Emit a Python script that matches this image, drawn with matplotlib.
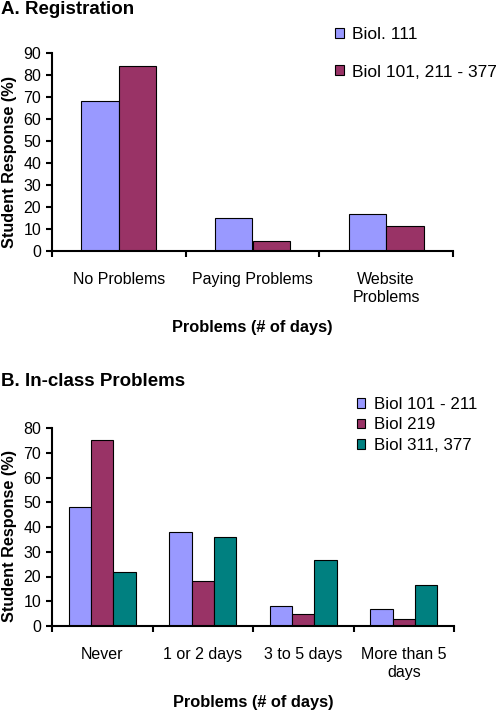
import numpy as np
import matplotlib.pyplot as plt

plt.rcParams['font.family'] = ['Liberation Sans', 'DejaVu Sans']

# =========================
# DATA
# =========================
reg_categories = ["No Problems", "Paying Problems", "Website\nProblems"]
reg_series = ["Biol. 111", "Biol 101, 211 - 377"]
reg_biol111 = [68, 15, 17]
reg_biol101_377 = [84, 4.5, 11.5]

cls_categories = ["Never", "1 or 2 days", "3 to 5 days", "More than 5\ndays"]
cls_series = ["Biol 101 - 211", "Biol 219", "Biol 311, 377"]
cls_biol101_211 = [48, 38, 8, 7]
cls_biol219 = [75, 18, 5, 3]
cls_biol311_377 = [22, 36, 26.5, 16.5]

colors = ["#9999FF", "#993366", "#008080"]

fig = plt.figure(figsize=(4.97, 7.10), dpi=100)


def style_axes(ax, categories, ymax, label_y):
    ncat = len(categories)
    ax.set_xlim(0, ncat)
    ax.set_ylim(0, ymax)
    ax.set_yticks(np.arange(0, ymax + 1, 10))
    # major ticks on category borders, labels on minor ticks in the middle
    ax.set_xticks(np.arange(0, ncat + 1))
    ax.set_xticklabels([])
    ax.set_xticks(np.arange(ncat) + 0.5, minor=True)
    ax.set_xticklabels(categories, minor=True, linespacing=1.25)
    ax.spines["top"].set_visible(False)
    ax.spines["right"].set_visible(False)
    ax.spines["left"].set_linewidth(1.5)
    ax.spines["bottom"].set_linewidth(1.5)
    ax.tick_params(axis="y", direction="out", length=4.3, width=1.5,
                   labelsize=11.5, pad=3.5)
    ax.tick_params(axis="x", which="major", direction="out", length=4.3, width=1.5)
    ax.tick_params(axis="x", which="minor", length=0, labelsize=11.5, pad=15)
    ax.set_ylabel("Student Response (%)", fontsize=11.7, fontweight="bold")
    ax.yaxis.set_label_coords(-0.087, label_y)
    ax.set_xlabel("Problems (# of days)", fontsize=11.8, fontweight="bold",
                  labelpad=11)


# =========================
# A. REGISTRATION
# =========================
axA = fig.add_axes([52 / 497, 1 - 251 / 710, 401 / 497, 198 / 710])
x = np.arange(len(reg_categories)) + 0.5
w = 0.28
for i, vals in enumerate([reg_biol111, reg_biol101_377]):
    axA.bar(x + (i - 0.5) * w, vals, w, color=colors[i], edgecolor="black",
            linewidth=0.8, label=reg_series[i])
style_axes(axA, reg_categories, 90, 0.447)
fig.text(0.003, 0.986, "A. Registration", fontsize=13.5, fontweight="bold",
         ha="left", va="center")
fig.legend(*axA.get_legend_handles_labels(), loc="upper left",
           bbox_to_anchor=(335 / 497, 1 - 27 / 710), frameon=False,
           fontsize=12.5, handlelength=0.5, handleheight=0.5,
           handletextpad=0.5, labelspacing=1.3, borderpad=0, borderaxespad=0)

# =========================
# B. IN-CLASS PROBLEMS
# =========================
axB = fig.add_axes([52 / 497, 1 - 626 / 710, 402 / 497, 198 / 710])
x = np.arange(len(cls_categories)) + 0.5
w = 0.223
for i, vals in enumerate([cls_biol101_211, cls_biol219, cls_biol311_377]):
    axB.bar(x + (i - 1) * w, vals, w, color=colors[i], edgecolor="black",
            linewidth=0.8, label=cls_series[i])
style_axes(axB, cls_categories, 80, 0.456)
fig.text(0.003, 0.462, "B. In-class Problems", fontsize=13.5, fontweight="bold",
         ha="left", va="center")
fig.legend(*axB.get_legend_handles_labels(), loc="upper left",
           bbox_to_anchor=(357 / 497, 1 - 397 / 710), frameon=False,
           fontsize=12.2, handlelength=0.5, handleheight=0.5,
           handletextpad=0.5, labelspacing=0.32, borderpad=0, borderaxespad=0)

fig.savefig("out.png", dpi=100)
